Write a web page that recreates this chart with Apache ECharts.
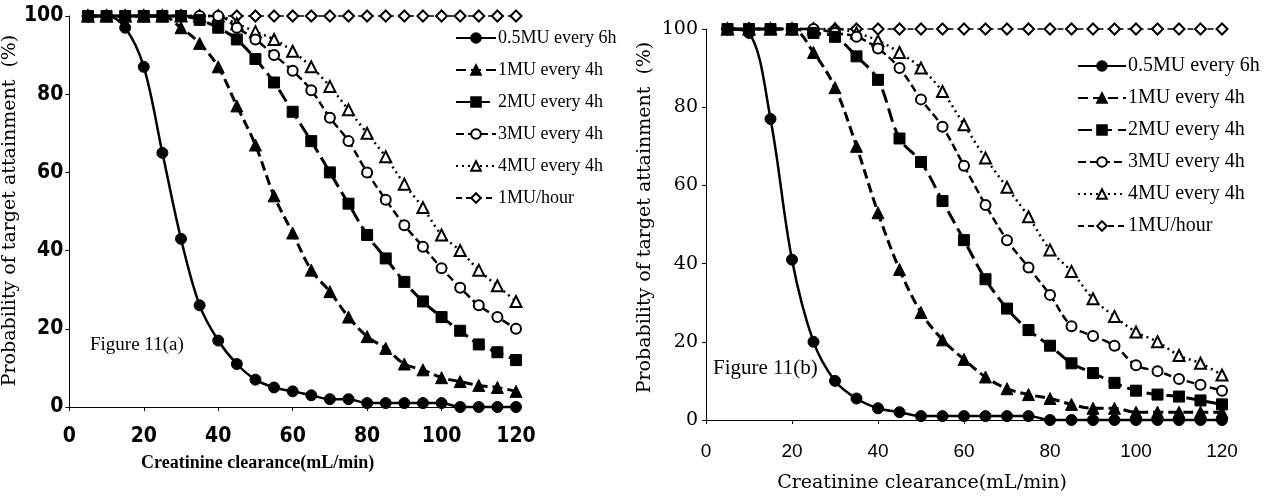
<!DOCTYPE html>
<html>
<head>
<meta charset="utf-8">
<script src="https://cdn.jsdelivr.net/npm/echarts@6/dist/echarts.min.js"></script>
<style>
  html, body { margin: 0; padding: 0; background: #fff; }
  #chart { width: 1280px; height: 500px; }
</style>
</head>
<body>
<div id="chart"></div>
<script>
// creatinine clearance (mL/min), same points for both panels
const clearance = [5, 10, 15, 20, 25, 30, 35, 40, 45, 50, 55, 60, 65, 70, 75, 80, 85, 90, 95, 100, 105, 110, 115, 120];

// Figure 11(a)
const aHalfMU6h = [100, 100, 97, 87, 65, 43, 26, 17, 11, 7, 5, 4, 3, 2, 2, 1, 1, 1, 1, 1, 0, 0, 0, 0];
const a1MU4h = [100, 100, 100, 100, 100, 97, 93, 87, 77, 67, 54, 44.5, 35, 29.5, 23, 18, 15, 11, 9.5, 7.5, 6.5, 5.5, 5, 4];
const a2MU4h = [100, 100, 100, 100, 100, 100, 99, 97, 94, 89, 83, 75.5, 68, 60, 52, 44, 38, 32, 27, 23, 19.5, 16, 14, 12];
const a3MU4h = [100, 100, 100, 100, 100, 100, 100, 100, 97, 94, 90, 86, 81, 74, 68, 60, 53, 46.5, 41, 35.5, 30.5, 26, 23, 20];
const a4MU4h = [100, 100, 100, 100, 100, 100, 100, 100, 98, 96, 94, 91, 87, 82, 76, 70, 64, 57, 51, 44, 40, 35, 31, 27];
const a1MUhour = [100, 100, 100, 100, 100, 100, 100, 100, 100, 100, 100, 100, 100, 100, 100, 100, 100, 100, 100, 100, 100, 100, 100, 100];

// Figure 11(b)
const bHalfMU6h = [100, 99, 77, 41, 20, 10, 5.5, 3, 2, 1, 1, 1, 1, 1, 1, 0, 0, 0, 0, 0, 0, 0, 0, 0];
const b1MU4h = [100, 100, 100, 100, 94, 85, 70, 53, 38.5, 27.5, 20.5, 15.5, 11, 8, 6.5, 5.5, 4, 3, 3, 2, 2, 2, 2, 2];
const b2MU4h = [100, 100, 100, 100, 99, 98, 93, 87, 72, 66, 56, 46, 36, 28.5, 23, 19, 14.5, 12, 9.5, 7.5, 6.5, 6, 5, 4];
const b3MU4h = [100, 100, 100, 100, 100, 99, 98, 95, 90, 82, 75, 65, 55, 46, 39, 32, 24, 21.5, 19, 14, 12.5, 10.5, 9, 7.5];
const b4MU4h = [100, 100, 100, 100, 100, 100, 99, 97, 94, 90, 84, 75.5, 67, 59.5, 52, 43.5, 38, 31, 26.5, 22.5, 20, 16.5, 14.5, 11.5];
const b1MUhour = [100, 100, 100, 100, 100, 100, 100, 100, 100, 100, 100, 100, 100, 100, 100, 100, 100, 100, 100, 100, 100, 100, 100, 100];

const regimens = ["0.5MU every 6h", "1MU every 4h", "2MU every 4h", "3MU every 4h", "4MU every 4h", "1MU/hour"];

// look of each regimen (marker, fill, dash)
const looks = [
  { symbol: "circle", size: 11, fill: "#000", dash: "solid", width: 2.5 },
  { symbol: "triangle", size: 12, fill: "#000", dash: [10, 5], width: 3 },
  { symbol: "rect", size: 11, fill: "#000", dash: [14, 6], width: 3 },
  { symbol: "circle", size: 10, fill: "#fff", dash: [8, 4], width: 2.5 },
  { symbol: "triangle", size: 11, fill: "#fff", dash: [2, 4], width: 2.5 },
  { symbol: "diamond", size: 11, fill: "#fff", dash: [6, 4], width: 1.5 },
];

const narrow = "'Liberation Sans Narrow', 'Arial Narrow', 'DejaVu Sans Condensed', sans-serif";

function makeSeries(values, idx) {
  return values.map((vals, i) => ({
    name: regimens[i],
    type: "line",
    xAxisIndex: idx,
    yAxisIndex: idx,
    smooth: 0.35,
    clip: false,
    symbol: looks[i].symbol,
    symbolSize: looks[i].size,
    showAllSymbol: true,
    data: clearance.map((x, k) => [x, vals[k]]),
    lineStyle: { color: "#000", width: looks[i].width, type: looks[i].dash },
    itemStyle: { color: looks[i].fill, borderColor: "#000", borderWidth: looks[i].fill === "#fff" ? 2 : 1 },
    emphasis: { disabled: true },
    z: 10 - i,
  }));
}

const axisLine = { show: true, onZero: false, lineStyle: { color: "#000", width: 1 } };

const chart = echarts.init(document.getElementById("chart"), null, { renderer: "canvas" });

chart.setOption({
  backgroundColor: "#fff",
  animation: false,
  grid: [
    { left: 69, top: 16, width: 447, height: 391 },
    { left: 706, top: 29, width: 516, height: 391 },
  ],
  xAxis: [
    {
      gridIndex: 0, type: "value", min: 0, max: 120, interval: 20,
      axisLine, splitLine: { show: false },
      axisTick: { show: true, length: 4, lineStyle: { color: "#000" } },
      axisLabel: { color: "#000", fontFamily: narrow, fontWeight: "bold", fontSize: 21, margin: 19 },
      name: "Creatinine clearance(mL/min)", nameLocation: "middle", nameGap: 47,
      nameTextStyle: { color: "#000", fontFamily: "'Liberation Serif', serif", fontSize: 18, fontWeight: "bold", padding: [0, 70, 0, 0] },
    },
    {
      gridIndex: 1, type: "value", min: 0, max: 120, interval: 20,
      axisLine, splitLine: { show: false },
      axisTick: { show: true, length: 4, lineStyle: { color: "#000" } },
      axisLabel: { color: "#000", fontFamily: "'Liberation Sans', sans-serif", fontSize: 19, margin: 22 },
      name: "Creatinine clearance(mL/min)", nameLocation: "middle", nameGap: 54,
      nameTextStyle: { color: "#000", fontFamily: "'DejaVu Serif', serif", fontSize: 19, padding: [0, 84, 0, 0] },
    },
  ],
  yAxis: [
    {
      gridIndex: 0, type: "value", min: 0, max: 100, interval: 20,
      axisLine, splitLine: { show: false },
      axisTick: { show: true, length: 4, lineStyle: { color: "#000" } },
      axisLabel: { color: "#000", fontFamily: narrow, fontWeight: "bold", fontSize: 21, margin: 6 },
      name: "Probability of target attainment  (%)", nameLocation: "middle", nameRotate: 90, nameGap: 41,
      nameTextStyle: { color: "#000", fontFamily: "'DejaVu Serif', serif", fontSize: 19, padding: [0, 0, 0, 2] },
    },
    {
      gridIndex: 1, type: "value", min: 0, max: 100, interval: 20,
      axisLine, splitLine: { show: false },
      axisTick: { show: true, length: 4, lineStyle: { color: "#000" } },
      axisLabel: { color: "#000", fontFamily: "'DejaVu Serif', serif", fontSize: 19, margin: 8 },
      name: "Probability of target attainment  (%)", nameLocation: "middle", nameRotate: 90, nameGap: 51,
      nameTextStyle: { color: "#000", fontFamily: "'DejaVu Serif', serif", fontSize: 19, padding: [0, 0, 0, 14] },
    },
  ],
  legend: [
    {
      orient: "vertical", left: 450, top: 24, itemWidth: 40, itemHeight: 12, itemGap: 14,
      textStyle: { color: "#000", fontFamily: "'Liberation Serif', serif", fontSize: 18, padding: [0, 0, 0, -3] },
      data: regimens, selectedMode: false,
    },
    {
      orient: "vertical", left: 1072, top: 51, itemWidth: 48, itemHeight: 12, itemGap: 12,
      textStyle: { color: "#000", fontFamily: "'Liberation Serif', serif", fontSize: 20, padding: [0, 0, 0, -3] },
      data: regimens, selectedMode: false,
    },
  ],
  graphic: [
    { type: "text", left: 90, top: 336, style: { text: "Figure 11(a)", fill: "#000", font: "19px 'Liberation Serif', serif" } },
    { type: "text", left: 713, top: 358, style: { text: "Figure 11(b)", fill: "#000", font: "21px 'Liberation Serif', serif" } },
  ],
  series: [
    ...makeSeries([aHalfMU6h, a1MU4h, a2MU4h, a3MU4h, a4MU4h, a1MUhour], 0),
    ...makeSeries([bHalfMU6h, b1MU4h, b2MU4h, b3MU4h, b4MU4h, b1MUhour], 1),
  ],
});
</script>
</body>
</html>
